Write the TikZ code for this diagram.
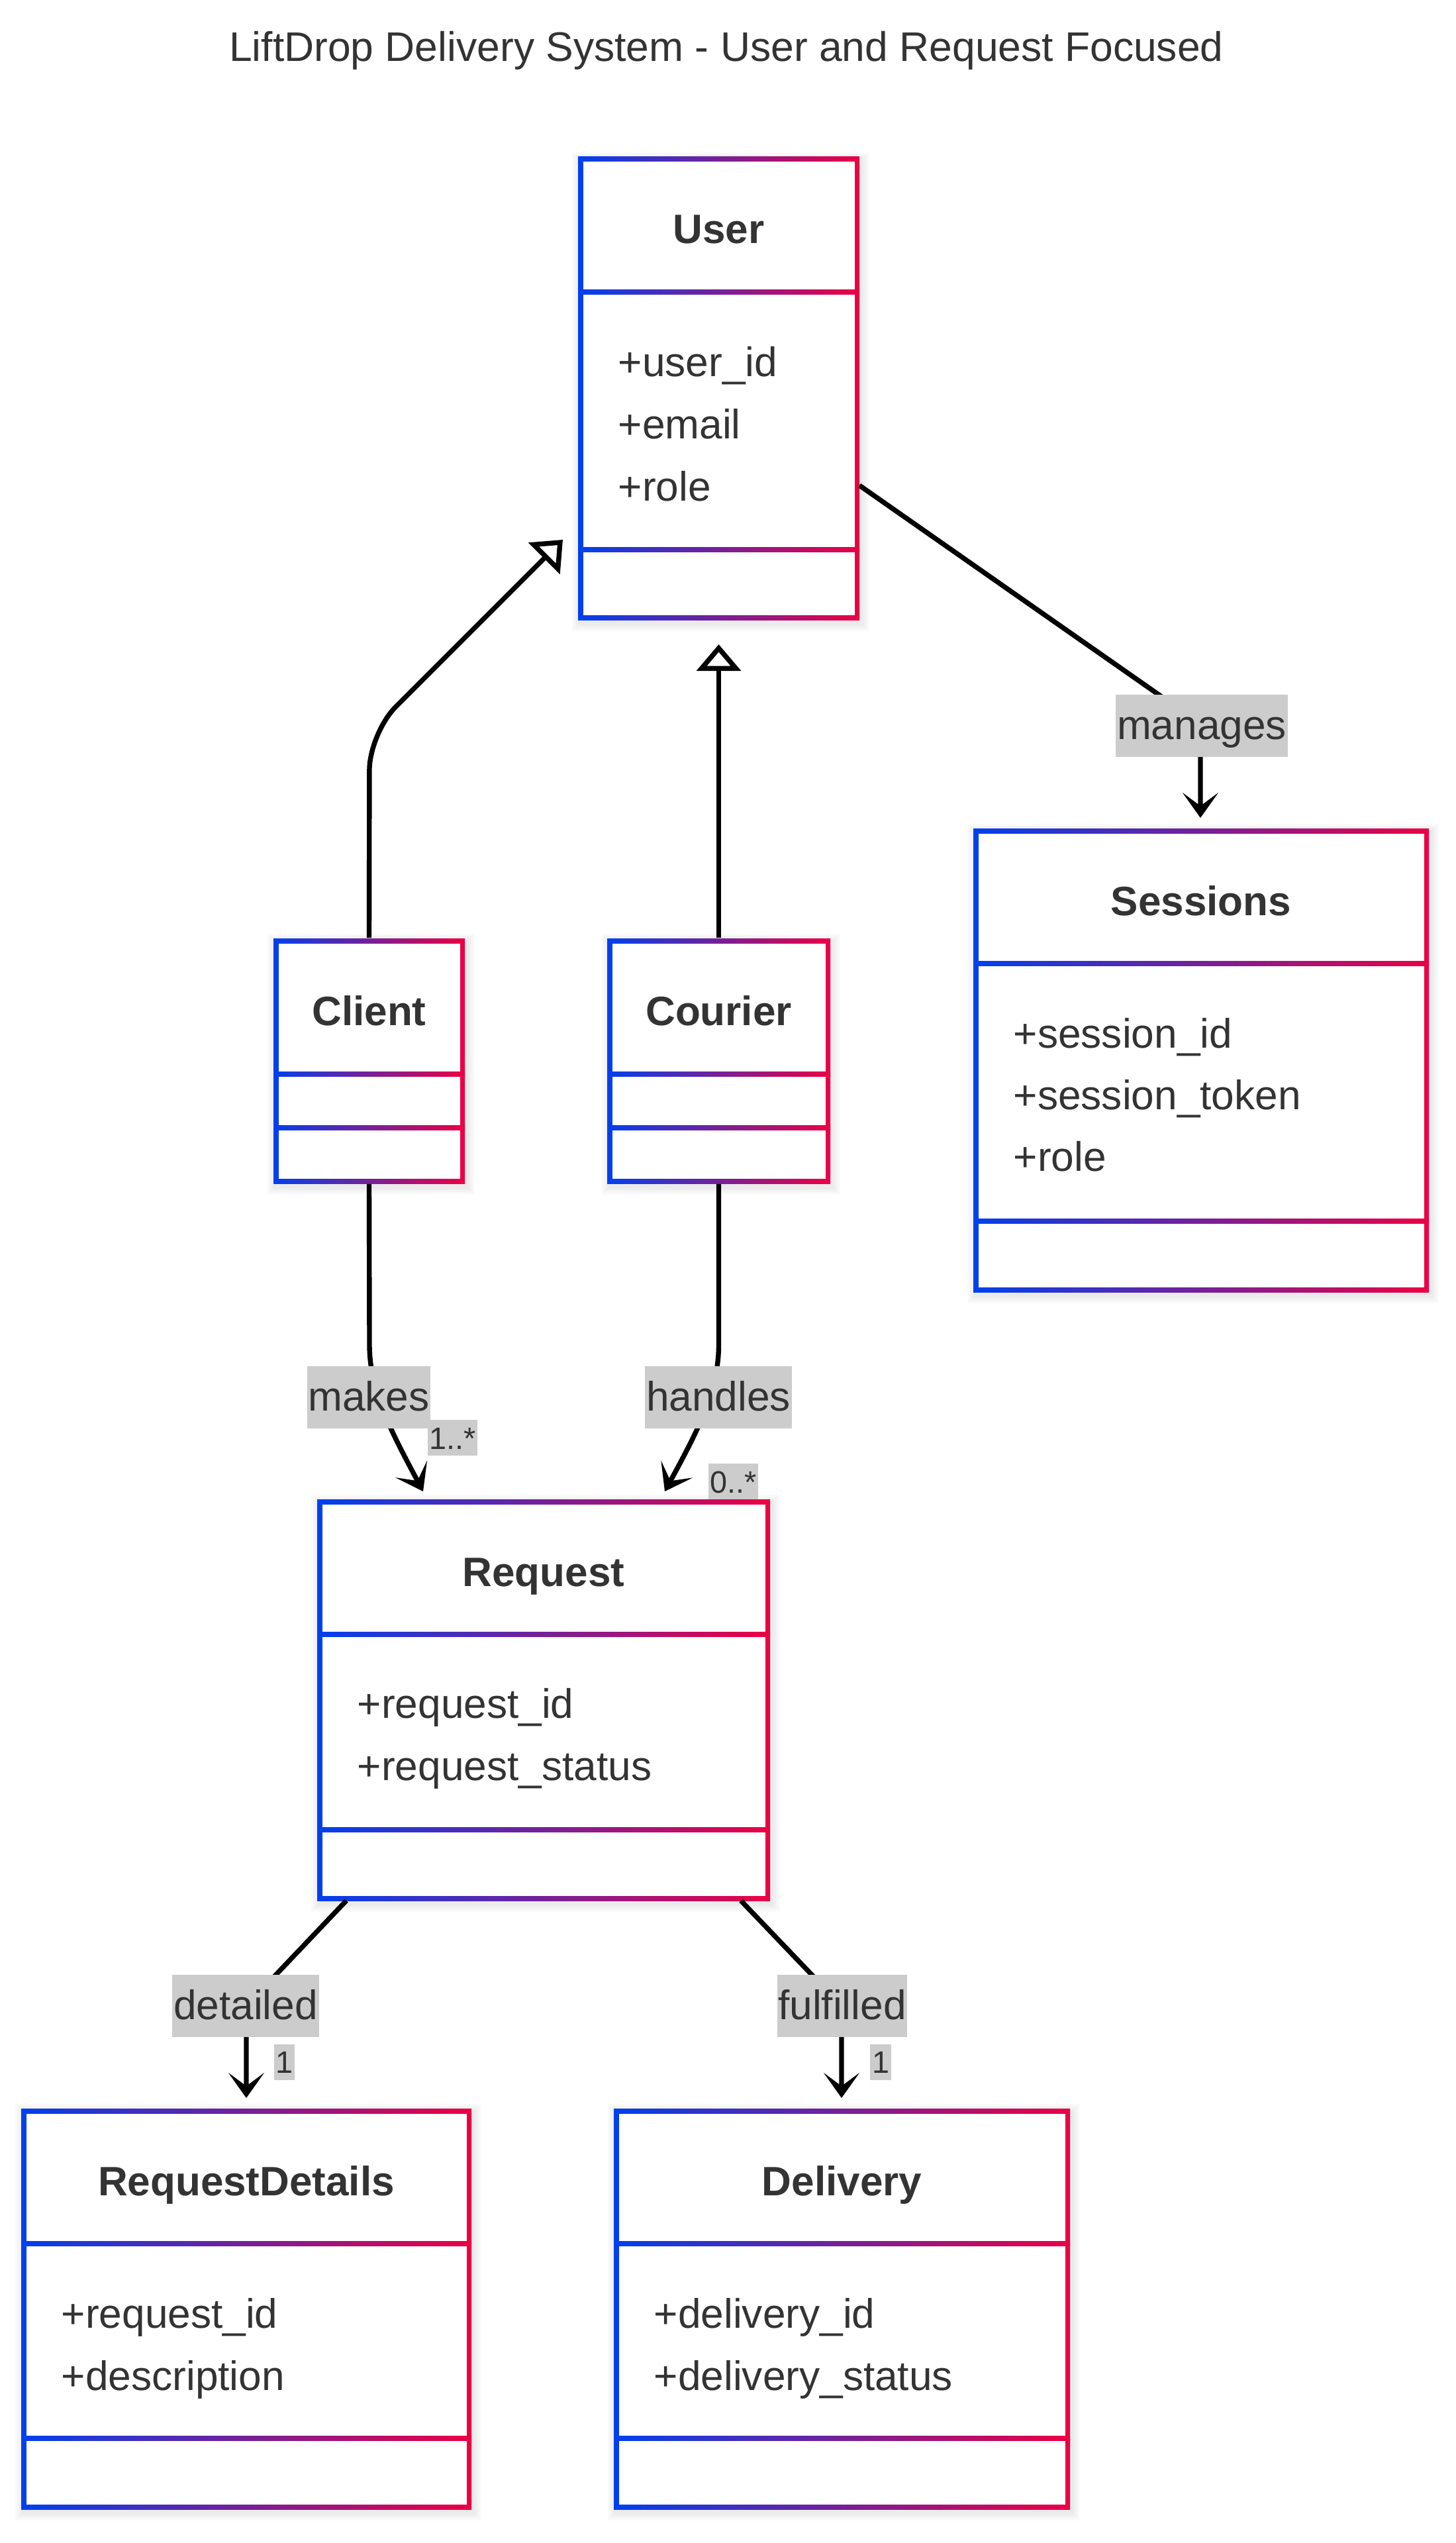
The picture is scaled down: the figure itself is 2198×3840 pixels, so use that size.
\documentclass[tikz,border=0pt]{standalone}
\usepackage{fontspec}
\setmainfont{Liberation Sans}
\usetikzlibrary{arrows.meta,fit}
\definecolor{cblue}{RGB}{0,64,238}
\definecolor{cred}{RGB}{236,0,68}
\definecolor{lgrey}{RGB}{204,204,204}
\definecolor{tgrey}{RGB}{51,51,51}
\newcommand\BoxW{7.5}
\newcommand\ClassBox[7]{%
  \foreach \k in {3,6,9,12} {\fill[black,opacity=0.018] (#2-\k+3,#3-\k+5) rectangle (#4+\k+3,#5+\k+5);}
  \shade[left color=cblue,right color=cred] (#2,#3) rectangle (#4,#5);
  \fill[white] (#2+\BoxW,#3+\BoxW) rectangle (#4-\BoxW,#5-\BoxW);
  \shade[left color=cblue,right color=cred] (#2,#6-\BoxW/2) rectangle (#4,#6+\BoxW/2);
  \shade[left color=cblue,right color=cred] (#2,#7-\BoxW/2) rectangle (#4,#7+\BoxW/2);
  \coordinate (#1-nw) at (#2,#3);
  \coordinate (#1-se) at (#4,#5);
  \node[fit=(#1-nw)(#1-se), inner sep=0pt, draw=none] (#1) {};
}
\tikzset{
  conn/.style={draw=black, line width=1.85pt},
  assoc/.style={-{Stealth[length=9.5pt,width=13.5pt,inset=5pt]}},
  gen/.style={-{Triangle[open,length=10pt,width=16.5pt]}},
  titletext/.style={font=\fontsize{15.6pt}{18pt}\selectfont, text=tgrey, inner sep=0pt, anchor=base},
  cname/.style={font=\fontsize{15.5pt}{18pt}\selectfont\bfseries, text=tgrey, inner sep=0pt, anchor=base},
  attr/.style={font=\fontsize{15.55pt}{18pt}\selectfont, text=tgrey, inner sep=0pt, anchor=base west},
  elabel/.style={fill=lgrey, text=tgrey, font=\fontsize{15.55pt}{18pt}\selectfont, inner xsep=0.4pt, inner ysep=0pt, minimum height=23.5pt, text height=11.25pt, text depth=1.25pt},
  mlabel/.style={fill=lgrey, text=tgrey, font=\fontsize{11.7pt}{14pt}\selectfont, inner xsep=0.7pt, inner ysep=0pt, minimum height=13.5pt, text height=9pt, text depth=0.5pt},
}
\begin{document}
\begin{tikzpicture}[x=0.25pt,y=-0.25pt]
\fill[white] (0,0) rectangle (2198,3840);
\useasboundingbox (0,0) rectangle (2198,3840);

\node[titletext] (title) at (1097,93) {LiftDrop Delivery System - User and Request Focused};

% class boxes
\ClassBox{User}{873}{237}{1298}{936}{441}{830}
\ClassBox{Client}{413}{1417}{702}{1787}{1622}{1703}
\ClassBox{Courier}{917}{1417}{1254}{1787}{1622}{1703}
\ClassBox{Sessions}{1470}{1251}{2158}{1951}{1455}{1844}
\ClassBox{Request}{479}{2264}{1163}{2870}{2468}{2763}
\ClassBox{RequestDetails}{32}{3184}{712}{3789}{3388}{3682}
\ClassBox{Delivery}{927}{3184}{1616}{3789}{3388}{3682}

% class names
\node[cname] (tUser) at (1085.5,368) {User};
\node[cname] (tClient) at (557.5,1548) {Client};
\node[cname] (tCourier) at (1085.5,1548) {Courier};
\node[cname] (tSessions) at (1814,1382) {Sessions};
\node[cname] (tRequest) at (821,2395) {Request};
\node[cname] (tRequestDetails) at (372,3315) {RequestDetails};
\node[cname] (tDelivery) at (1271.5,3315) {Delivery};

% attributes
\node[attr] (aUser1) at (933,569) {+user\_id};
\node[attr] (aUser2) at (933,663) {+email};
\node[attr] (aUser3) at (933,757) {+role};
\node[attr] (aSes1) at (1530,1582) {+session\_id};
\node[attr] (aSes2) at (1530,1675) {+session\_token};
\node[attr] (aSes3) at (1530,1768) {+role};
\node[attr] (aReq1) at (539,2594) {+request\_id};
\node[attr] (aReq2) at (539,2688) {+request\_status};
\node[attr] (aRD1) at (92,3515) {+request\_id};
\node[attr] (aRD2) at (92,3609) {+description};
\node[attr] (aDel1) at (987,3515) {+delivery\_id};
\node[attr] (aDel2) at (987,3609) {+delivery\_status};

% connector coordinates
\coordinate (cuBend) at (558,1107);
\coordinate (cuTip) at (850,815);
\coordinate (coTip) at (1085.5,973);
\coordinate (manStart) at (1298,733);
\coordinate (manBend) at (1813,1093);
\coordinate (manTip) at (1813,1235);
\coordinate (mkA) at (558,2030);
\coordinate (mkB) at (558,2100);
\coordinate (mkC) at (590,2160);
\coordinate (mkTip) at (639,2252);
\coordinate (hdA) at (1085.5,2030);
\coordinate (hdB) at (1085.5,2100);
\coordinate (hdC) at (1054,2160);
\coordinate (hdTip) at (1004,2252);
\coordinate (dtStart) at (523,2870);
\coordinate (dtBend) at (372,3029);
\coordinate (dtTip) at (372,3168);
\coordinate (flStart) at (1119,2870);
\coordinate (flBend) at (1271,3029);
\coordinate (flTip) at (1271,3168);

% connectors
\draw[conn, gen, rounded corners=14pt] (Client.north) -- (cuBend) -- (cuTip);
\draw[conn, gen] (Courier.north) -- (coTip);
\draw[conn, assoc] (manStart) -- (manBend) -- (manTip);
\draw[conn, assoc] (Client.south) -- (mkA) .. controls (mkB) and (mkC) .. (mkTip);
\draw[conn, assoc] (Courier.south) -- (hdA) .. controls (hdB) and (hdC) .. (hdTip);
\draw[conn, assoc] (dtStart) -- (dtBend) -- (dtTip);
\draw[conn, assoc] (flStart) -- (flBend) -- (flTip);

% edge labels
\node[elabel] (lManages) at (1815,1096) {manages};
\node[elabel] (lMakes) at (557,2110) {makes};
\node[elabel] (lHandles) at (1085,2110) {handles};
\node[elabel] (lDetailed) at (371,3029) {detailed};
\node[elabel] (lFulfilled) at (1272,3029) {fulfilled};

% multiplicities
\node[mlabel] (mMakes) at (683.5,2171) {1..*};
\node[mlabel] (mHandles) at (1107.5,2237) {0..*};
\node[mlabel] (mDetailed) at (429.5,3113.5) {1};
\node[mlabel] (mFulfilled) at (1330,3113.5) {1};
\end{tikzpicture}
\end{document}
